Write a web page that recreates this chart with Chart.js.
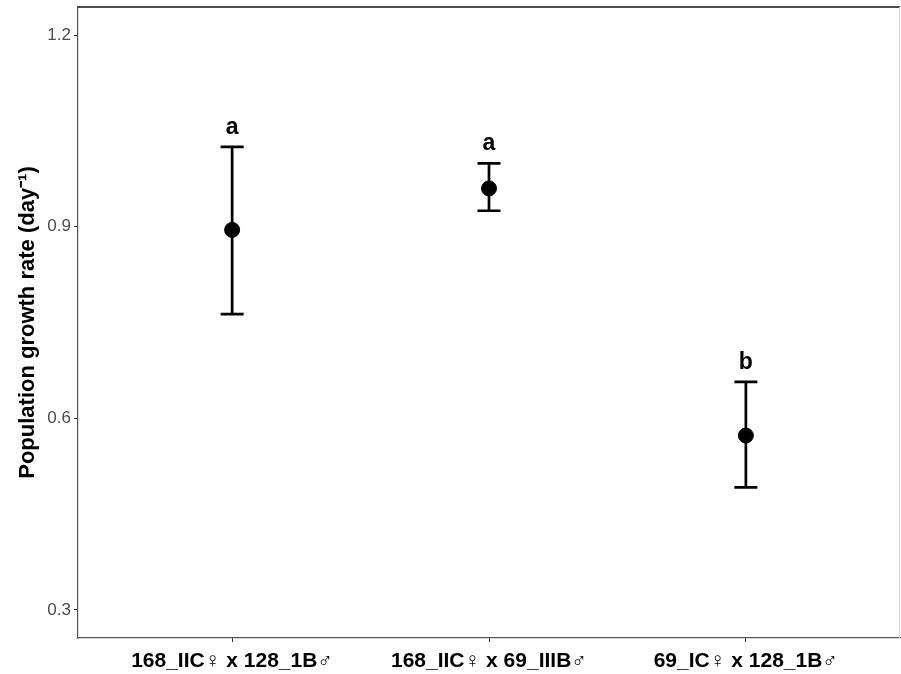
<!DOCTYPE html>
<html>
<head>
<meta charset="utf-8">
<script src="https://cdn.jsdelivr.net/npm/chart.js@4"></script>
<style>
  html, body { margin: 0; padding: 0; background: #fff; overflow: hidden; }
  #wrap { width: 901px; height: 674px; }
  canvas { display: block; }
</style>
</head>
<body>
<div id="wrap"><canvas id="growthChart" width="901" height="674"></canvas></div>
<script>
// data
const crosses = ['168_IIC♀ x 128_1B♂', '168_IIC♀ x 69_IIIB♂', '69_IC♀ x 128_1B♂'];
const meanRate = [0.895, 0.960, 0.573];
const upperRate = [1.025, 0.999, 0.657];
const lowerRate = [0.763, 0.925, 0.492];
const groupLetters = ['a', 'a', 'b'];
const yTicks = [0.3, 0.6, 0.9, 1.2];

const points = meanRate.map((v, i) => ({ x: i + 1, y: v }));

//error bars + significance letters drawn from the data through the scales
const errorBars = {
    id: 'errorBars',
    afterDatasetsDraw(chart) {
        const ctx = chart.ctx;
        const xs = chart.scales.x;
        const ys = chart.scales.y;
        ctx.save();
        ctx.strokeStyle = '#000';
        ctx.lineWidth = 2.7;
        for (let i = 0; i < meanRate.length; i++) {
            const px = xs.getPixelForValue(i + 1);
            const top = ys.getPixelForValue(upperRate[i]);
            const bot = ys.getPixelForValue(lowerRate[i]);
            ctx.beginPath();
            ctx.moveTo(px, top); ctx.lineTo(px, bot);
            ctx.moveTo(px - 11.5, top); ctx.lineTo(px + 11.5, top);
            ctx.moveTo(px - 11.5, bot); ctx.lineTo(px + 11.5, bot);
            ctx.stroke();

            ctx.fillStyle = '#000';
            ctx.font = 'bold 23px "Liberation Sans", Arial, sans-serif';
            ctx.textAlign = 'center';
            ctx.textBaseline = 'alphabetic';
            ctx.fillText(groupLetters[i], px, top - 13);
        }
        ctx.restore();
    }
};

//black top border of the panel, faint right edge
const panelTop = {
    id: 'panelTop',
    afterDraw(chart) {
        const a = chart.chartArea;
        const ctx = chart.ctx;
        ctx.save();
        ctx.strokeStyle = '#111';
        ctx.lineWidth = 1.5;
        ctx.beginPath();
        ctx.moveTo(a.left, a.top); ctx.lineTo(a.right, a.top);
        ctx.stroke();
        ctx.strokeStyle = '#d9d9d9';
        ctx.lineWidth = 1;
        ctx.beginPath();
        ctx.moveTo(a.right - 0.5, a.top); ctx.lineTo(a.right - 0.5, a.bottom);
        ctx.stroke();
        ctx.restore();
    }
};

const ctx = document.getElementById('growthChart').getContext('2d');
new Chart(ctx, {
    type: 'scatter',
    data: {
        datasets: [{
            data: points,
            backgroundColor: '#000',
            borderColor: '#000',
            pointRadius: 7.5,
            pointHoverRadius: 7.5
        }]
    },
    options: {
        responsive: false,
        animation: false,
        layout: { autoPadding: false, padding: { top: 7, right: 1, left: 0, bottom: 0 } },
        plugins: {
            legend: { display: false },
            tooltip: { enabled: false }
        },
        scales: {
            x: {
                type: 'linear',
                min: 0.4,
                max: 3.6,
                afterBuildTicks: scale => {
                    scale.ticks = crosses.map((c, i) => ({ value: i + 1 }));
                },
                afterFit: scale => {
                    scale.height = 36;
                    scale.paddingLeft = 0;
                    scale.paddingRight = 0;
                },
                grid: {
                    drawOnChartArea: false,
                    drawTicks: true,
                    tickLength: 4,
                    color: '#333'
                },
                border: { color: '#555', width: 1.2 },
                ticks: {
                    autoSkip: false,
                    maxRotation: 0,
                    padding: 7,
                    color: '#000',
                    font: { family: '"Liberation Sans", Arial, sans-serif', size: 21, weight: 'bold' },
                    callback: value => crosses[value - 1]
                }
            },
            y: {
                min: 0.256,
                max: 1.244,
                afterBuildTicks: scale => {
                    scale.ticks = yTicks.map(v => ({ value: v }));
                },
                afterFit: scale => {
                    scale.width = 78;
                    scale.paddingTop = 0;
                    scale.paddingBottom = 0;
                },
                grid: {
                    drawOnChartArea: false,
                    drawTicks: true,
                    tickLength: 4,
                    color: '#333'
                },
                border: { color: '#555', width: 1.2 },
                ticks: {
                    padding: 3,
                    color: '#4d4d4d',
                    font: { family: '"Liberation Sans", Arial, sans-serif', size: 17 },
                    callback: value => value.toFixed(1)
                },
                title: {
                    display: true,
                    text: 'Population growth rate (day⁻¹)',
                    color: '#000',
                    padding: { top: 15, bottom: 0 },
                    font: { family: '"Liberation Sans", Arial, sans-serif', size: 22, weight: 'bold' }
                }
            }
        }
    },
    plugins: [errorBars, panelTop]
});
</script>
</body>
</html>
